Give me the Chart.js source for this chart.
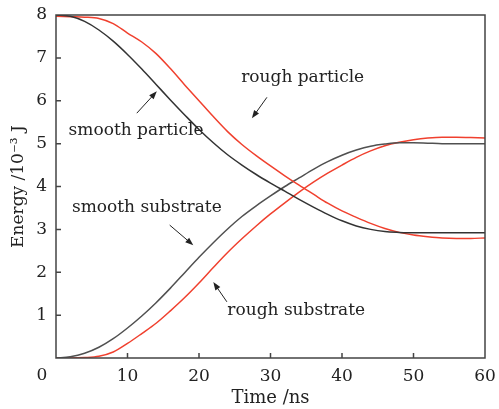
<!DOCTYPE html>
<html>
<head>
<meta charset="utf-8">
<script src="https://cdn.jsdelivr.net/npm/chart.js@4.4.0/dist/chart.umd.min.js"></script>
<style>
  html, body { margin: 0; padding: 0; background: #fff; }
  #wrap { width: 499px; height: 409px; }
</style>
</head>
<body>
<div id="wrap"><canvas id="energyChart"></canvas></div>
<script>
const times = [0, 2, 4, 6, 8, 10, 12, 14, 16, 18, 20, 22, 24, 26, 28, 30,
               32, 34, 36, 38, 40, 42, 44, 46, 48, 50, 52, 54, 56, 58, 60];
const smoothParticle = [8.0, 7.97, 7.85, 7.65, 7.39, 7.08, 6.74, 6.38, 6.02, 5.67, 5.33, 5.02, 4.74, 4.5, 4.28, 4.08,
                        3.89, 3.7, 3.52, 3.35, 3.2, 3.08, 3.0, 2.95, 2.93, 2.92, 2.92, 2.92, 2.92, 2.92, 2.92];
const roughParticle = [7.97, 7.96, 7.95, 7.92, 7.8, 7.58, 7.37, 7.1, 6.75, 6.37, 6.0, 5.63, 5.28, 4.98, 4.72, 4.48,
                       4.25, 4.03, 3.82, 3.61, 3.43, 3.28, 3.14, 3.02, 2.93, 2.87, 2.83, 2.8, 2.79, 2.79, 2.8];
const smoothSubstrate = [0, 0.03, 0.11, 0.25, 0.45, 0.7, 0.98, 1.29, 1.63, 1.99, 2.35, 2.69, 3.01, 3.3, 3.55, 3.78,
                         4.0, 4.2, 4.4, 4.58, 4.73, 4.85, 4.94, 4.99, 5.02, 5.02, 5.01, 5.0, 5.0, 5.0, 5.0];
const roughSubstrate = [0, 0, 0.01, 0.04, 0.14, 0.34, 0.57, 0.81, 1.1, 1.41, 1.75, 2.11, 2.46, 2.78, 3.08, 3.36,
                        3.62, 3.87, 4.1, 4.31, 4.5, 4.68, 4.83, 4.95, 5.03, 5.09, 5.13, 5.15, 5.15, 5.14, 5.13];
const xTicks = [0, 10, 20, 30, 40, 50, 60];
const yTicks = [0, 1, 2, 3, 4, 5, 6, 7, 8];

// label text, label position, arrow tail, arrow head (data units)
const notes = [
  { text: 'rough particle',   at: [34.5, 6.55], from: [29.5, 6.08], to: [27.4, 5.59] },
  { text: 'smooth particle',  at: [11.2, 5.31], from: [11.3, 5.71], to: [14.1, 6.22] },
  { text: 'smooth substrate', at: [12.7, 3.52], from: [15.9, 3.10], to: [19.2, 2.63] },
  { text: 'rough substrate',  at: [33.6, 1.10], from: [23.9, 1.31], to: [22.0, 1.77] }
];

const SERIF = '"DejaVu Serif", "Liberation Serif", serif';
const RED = '#f0402e';

function pts(ys) {
  return times.map((t, i) => ({ x: t, y: ys[i] }));
}

const frame = {
  id: 'frame',
  afterDatasetsDraw(chart) {
    const ctx = chart.ctx;
    const a = chart.chartArea;
    const xs = chart.scales.x, ys = chart.scales.y;
    ctx.save();
    ctx.setLineDash([]);
    ctx.strokeStyle = '#444444';
    ctx.lineWidth = 1.5;
    ctx.beginPath();
    ctx.moveTo(a.left, a.top);
    ctx.lineTo(a.right, a.top);
    ctx.lineTo(a.right, a.bottom);
    ctx.lineTo(a.left, a.bottom);
    ctx.closePath();
    // inward ticks
    xTicks.slice(1, -1).forEach(v => {
      const px = xs.getPixelForValue(v);
      ctx.moveTo(px, a.bottom);
      ctx.lineTo(px, a.bottom - 5);
    });
    yTicks.slice(1, -1).forEach(v => {
      const py = ys.getPixelForValue(v);
      ctx.moveTo(a.left, py);
      ctx.lineTo(a.left + 5, py);
    });
    ctx.stroke();
    ctx.restore();
  },
  afterDraw(chart) {
    const ctx = chart.ctx;
    const a = chart.chartArea;
    const xs = chart.scales.x, ys = chart.scales.y;
    ctx.save();
    // shared origin label
    ctx.fillStyle = '#222';
    ctx.font = '17px ' + SERIF;
    ctx.textAlign = 'center';
    ctx.textBaseline = 'middle';
    ctx.fillText('0', a.left - 14, a.bottom + 18);

    // annotations
    ctx.font = '17px ' + SERIF;
    ctx.lineWidth = 1;
    ctx.strokeStyle = '#222';
    notes.forEach(n => {
      ctx.fillText(n.text, xs.getPixelForValue(n.at[0]), ys.getPixelForValue(n.at[1]));
      const x0 = xs.getPixelForValue(n.from[0]), y0 = ys.getPixelForValue(n.from[1]);
      const x1 = xs.getPixelForValue(n.to[0]), y1 = ys.getPixelForValue(n.to[1]);
      const ang = Math.atan2(y1 - y0, x1 - x0);
      ctx.beginPath();
      ctx.moveTo(x0, y0);
      ctx.lineTo(x1 - 5 * Math.cos(ang), y1 - 5 * Math.sin(ang));
      ctx.stroke();
      ctx.beginPath();
      ctx.moveTo(x1, y1);
      ctx.lineTo(x1 - 8 * Math.cos(ang) + 3 * Math.sin(ang), y1 - 8 * Math.sin(ang) - 3 * Math.cos(ang));
      ctx.lineTo(x1 - 8 * Math.cos(ang) - 3 * Math.sin(ang), y1 - 8 * Math.sin(ang) + 3 * Math.cos(ang));
      ctx.closePath();
      ctx.fill();
    });
    ctx.restore();
  }
};

const line = (ys, color) => ({
  data: pts(ys),
  borderColor: color,
  borderWidth: 1.5,
  pointRadius: 0,
  fill: false,
  cubicInterpolationMode: 'monotone'
});

new Chart(document.getElementById('energyChart').getContext('2d'), {
  type: 'line',
  data: {
    datasets: [
      line(smoothParticle, '#333'),
      line(roughParticle, RED),
      line(smoothSubstrate, '#505050'),
      line(roughSubstrate, RED)
    ]
  },
  options: {
    responsive: true,
    maintainAspectRatio: false,
    animation: false,
    layout: { padding: { top: 15, right: 14, left: 0, bottom: 0 } },
    plugins: { legend: { display: false }, tooltip: { enabled: false } },
    scales: {
      x: {
        type: 'linear',
        min: 0, max: 60,
        afterBuildTicks: s => { s.ticks = xTicks.map(v => ({ value: v })); },
        afterFit: s => { s.height = 51; s.paddingLeft = 0; s.paddingRight = 0; },
        grid: { display: false, drawTicks: false },
        border: { display: false },
        ticks: {
          color: '#222',
          padding: 8,
          maxRotation: 0,
          font: { family: SERIF, size: 17 },
          callback: v => (v === 0 ? '' : v)
        },
        title: {
          display: true,
          text: 'Time /ns',
          color: '#222',
          padding: { top: 0, bottom: 0 },
          font: { family: SERIF, size: 18, weight: 'normal' }
        }
      },
      y: {
        min: 0, max: 8,
        afterBuildTicks: s => { s.ticks = yTicks.map(v => ({ value: v })); },
        afterFit: s => { s.width = 56; s.paddingTop = 0; s.paddingBottom = 0; },
        grid: { display: false, drawTicks: false },
        border: { display: false },
        ticks: {
          color: '#222',
          padding: 9,
          font: { family: SERIF, size: 17 },
          callback: v => (v === 0 ? '' : v)
        },
        title: {
          display: true,
          text: 'Energy /10\u207B\u00B3 J',
          color: '#222',
          padding: { top: 8, bottom: 0 },
          font: { family: SERIF, size: 17, weight: 'normal' }
        }
      }
    }
  },
  plugins: [frame]
});
</script>
</body>
</html>
